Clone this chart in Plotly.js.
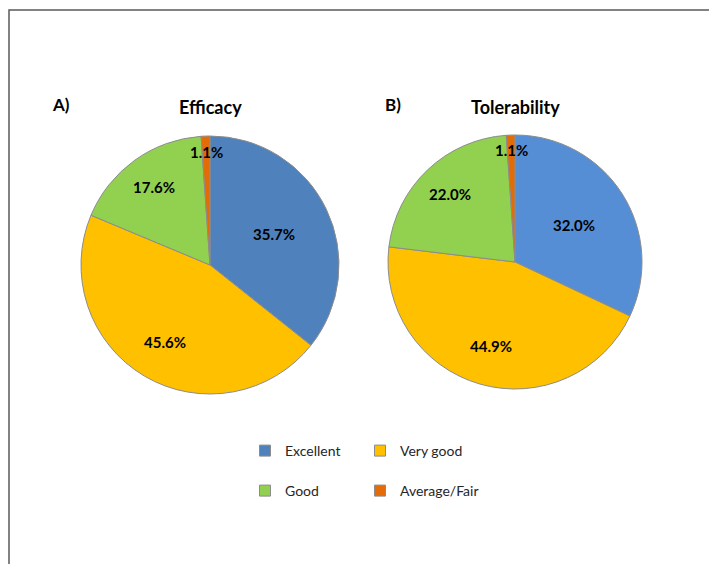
<!DOCTYPE html>
<html><head><meta charset="utf-8">
<script src="https://cdn.plot.ly/plotly-3.0.1.min.js"></script>
<style>html,body{margin:0;padding:0;background:#fff}#chart{width:709px;height:564px}</style>
</head><body><div id="chart"></div>
<script>
// ---- data ----
const categories = ['Excellent', 'Very good', 'Good', 'Average/Fair'];
const efficacyValues = [35.7, 45.6, 17.6, 1.1];
const tolerabilityValues = [32.0, 44.9, 22.0, 1.1];
const panelTitles = ['Efficacy', 'Tolerability'];
const panelTags = ['A)', 'B)'];

// ---- styling / layout ----
const W = 709, H = 564;
const FONT = 'Lato, "Open Sans", sans-serif';
const colorsA = ['#4F81BD', '#FFC000', '#92D050', '#E36C09'];
const colorsB = ['#558ED5', '#FFC000', '#92D050', '#E36C09'];
const legendColors = colorsA;
const LABEL_R = [0.55, 0.69, 0.74, 0.88];
const panels = [
  {values: efficacyValues, colors: colorsA, cx: 210, cy: 265, r: 129, tagX: 61, tagY: 104, titleY: 107},
  {values: tolerabilityValues, colors: colorsB, cx: 515, cy: 262, r: 127, tagX: 393, tagY: 104, titleY: 107}
];

const px = x => x / W;
const py = y => 1 - y / H;

const traces = [];
const annotations = [];

panels.forEach((p, i) => {
  traces.push({
    type: 'pie',
    labels: categories,
    values: p.values,
    sort: false,
    direction: 'clockwise',
    rotation: 0,
    textinfo: 'none',
    hoverinfo: 'none',
    showlegend: false,
    marker: {colors: p.colors, line: {color: '#8c8c8c', width: 1}},
    domain: {x: [px(p.cx - p.r), px(p.cx + p.r)], y: [py(p.cy + p.r), py(p.cy - p.r)]}
  });
  // slice labels placed along each slice's mid-angle (computed from values)
  const total = p.values.reduce((a, b) => a + b, 0);
  let cum = 0;
  p.values.forEach((v, k) => {
    const theta = 2 * Math.PI * (cum + v / 2) / total;
    cum += v;
    const f = LABEL_R[k] * p.r;
    annotations.push({
      xref: 'paper', yref: 'paper',
      x: px(p.cx + f * Math.sin(theta)), y: py(p.cy - f * Math.cos(theta)),
      xanchor: 'center', yanchor: 'middle', showarrow: false,
      text: '<b>' + v.toFixed(1) + '%</b>',
      font: {family: FONT, size: 15, color: '#000'}
    });
  });
  annotations.push({
    xref: 'paper', yref: 'paper', x: px(p.cx), y: py(p.titleY),
    xanchor: 'center', yanchor: 'middle', showarrow: false,
    text: '<b>' + panelTitles[i] + '</b>',
    font: {family: FONT, size: 18, color: '#000'}
  });
  annotations.push({
    xref: 'paper', yref: 'paper', x: px(p.tagX), y: py(p.tagY),
    xanchor: 'center', yanchor: 'middle', showarrow: false,
    text: '<b>' + panelTags[i] + '</b>',
    font: {family: FONT, size: 17, color: '#000'}
  });
});

// legend entries (2 x 2 grid via two legends)
categories.forEach((c, k) => {
  traces.push({
    type: 'scatter', mode: 'markers', x: [null], y: [null],
    name: c, hoverinfo: 'none',
    legend: k < 2 ? 'legend' : 'legend2',
    legendwidth: k % 2 === 0 ? 70 : 110,
    marker: {symbol: 'square', size: 11, color: legendColors[k], line: {color: '#8c8c8c', width: 1}}
  });
});

const legendBase = {
  orientation: 'h', xanchor: 'left', x: px(245), yanchor: 'middle',
  entrywidthmode: 'pixels',
  font: {family: FONT, size: 14, color: '#262626'},
  bgcolor: 'rgba(0,0,0,0)', borderwidth: 0
};

const layout = {
  width: W, height: H,
  margin: {l: 0, r: 0, t: 0, b: 0},
  paper_bgcolor: '#fff', plot_bgcolor: '#fff',
  showlegend: true,
  xaxis: {visible: false}, yaxis: {visible: false},
  legend: Object.assign({}, legendBase, {y: py(451)}),
  legend2: Object.assign({}, legendBase, {y: py(491)}),
  annotations: annotations,
  shapes: [{
    type: 'rect', xref: 'paper', yref: 'paper', layer: 'below',
    x0: px(9), y0: py(10), x1: 1.1, y1: -0.1,
    line: {color: '#595959', width: 1.5}
  }]
};

Plotly.newPlot('chart', traces, layout, {staticPlot: true, displayModeBar: false});
</script>
</body></html>
